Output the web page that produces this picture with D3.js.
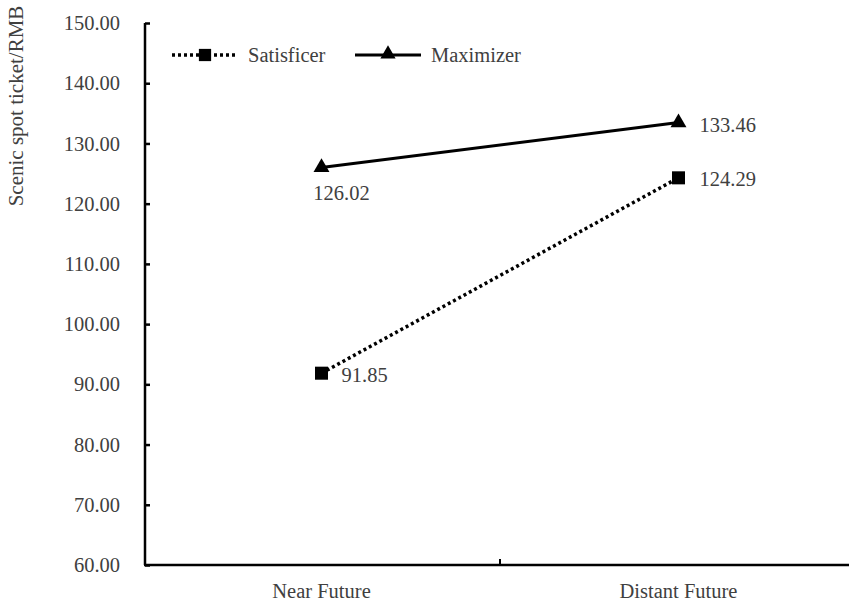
<!DOCTYPE html>
<html><head><meta charset="utf-8">
<script src="https://cdn.jsdelivr.net/npm/d3@7"></script>
<style>body{margin:0;background:#fff}svg{display:block}</style>
</head><body><svg id="c" width="849" height="605"></svg>
<script>
const categories = ["Near Future", "Distant Future"];
const seriesNames = ["Satisficer", "Maximizer"];
const satisficer = [91.85, 124.29];
const maximizer = [126.02, 133.46];
const yTicks = [60, 70, 80, 90, 100, 110, 120, 130, 140, 150];

const svg = d3.select("#c");
const txt = "#404040";
const fs = 20.5;
const x = d3.scaleBand().domain(categories).range([143, 857]);
const y = d3.scaleLinear().domain([60, 150]).range([565, 23]);
const cx = d => x(d) + x.bandwidth() / 2;

// y axis
const ya = svg.append("g").attr("transform", "translate(145,0)")
  .call(d3.axisLeft(y).tickValues(yTicks).tickSize(-5).tickPadding(25).tickFormat(d3.format(".2f")));
ya.select(".domain").attr("stroke", "#000").attr("stroke-width", 2.5).attr("d", "M0,23V565");
ya.selectAll(".tick line").attr("stroke", "#000").attr("stroke-width", 2.5);
ya.selectAll("text").attr("font-size", fs).attr("fill", txt);

// x axis
const xa = svg.append("g").attr("transform", "translate(0,565)")
  .call(d3.axisBottom(x).tickSize(0).tickPadding(18));
xa.select(".domain").attr("stroke", "#000").attr("stroke-width", 2.5).attr("d", "M144,0H849");
xa.selectAll("text").attr("font-size", fs).attr("fill", txt);
svg.append("line").attr("x1", x(categories[1])).attr("x2", x(categories[1]))
  .attr("y1", 565).attr("y2", 559).attr("stroke", "#000").attr("stroke-width", 2);

// y title
svg.append("text").attr("transform", "translate(23,106) rotate(-90)")
  .attr("text-anchor", "middle").attr("font-size", 21).attr("fill", txt)
  .text("Scenic spot ticket/RMB");

const line = d3.line().x((d, i) => cx(categories[i])).y(d => y(d));
svg.append("path").datum(maximizer).attr("d", line).attr("fill", "none")
  .attr("stroke", "#000").attr("stroke-width", 3);
svg.append("path").datum(satisficer).attr("d", line).attr("fill", "none")
  .attr("stroke", "#000").attr("stroke-width", 3.5).attr("stroke-dasharray", "3,3");

const sq = d3.symbol().type(d3.symbolSquare).size(170);
const tri = d3.symbol().type(d3.symbolTriangle).size(110);
svg.selectAll(".sq").data(satisficer).join("path")
  .attr("d", sq).attr("transform", (d, i) => `translate(${cx(categories[i])},${y(d)})`).attr("fill", "#000");
svg.selectAll(".tri").data(maximizer).join("path")
  .attr("d", tri).attr("transform", (d, i) => `translate(${cx(categories[i])},${y(d)})`).attr("fill", "#000");

// data labels
const lab = (t, xx, yy, anchor) => svg.append("text").attr("x", xx).attr("y", yy)
  .attr("text-anchor", anchor).attr("font-size", fs).attr("fill", txt).text(t);
lab(maximizer[0].toFixed(2), cx(categories[0]) + 20, y(maximizer[0]) + 33, "middle");
lab(satisficer[0].toFixed(2), cx(categories[0]) + 20, y(satisficer[0]) + 9, "start");
lab(maximizer[1].toFixed(2), cx(categories[1]) + 21, y(maximizer[1]) + 9, "start");
lab(satisficer[1].toFixed(2), cx(categories[1]) + 21, y(satisficer[1]) + 8, "start");

// legend
const lg = svg.append("g");
lg.append("line").attr("x1", 172).attr("x2", 238).attr("y1", 55).attr("y2", 55)
  .attr("stroke", "#000").attr("stroke-width", 3.5).attr("stroke-dasharray", "3,3");
lg.append("path").attr("d", d3.symbol().type(d3.symbolSquare).size(150)).attr("transform", "translate(205,55)").attr("fill", "#000");
lg.append("text").attr("x", 248).attr("y", 62).attr("font-size", fs).attr("fill", txt).text(seriesNames[0]);
lg.append("line").attr("x1", 355).attr("x2", 421).attr("y1", 55).attr("y2", 55)
  .attr("stroke", "#000").attr("stroke-width", 3);
lg.append("path").attr("d", d3.symbol().type(d3.symbolTriangle).size(100)).attr("transform", "translate(388,54)").attr("fill", "#000");
lg.append("text").attr("x", 431).attr("y", 62).attr("font-size", fs).attr("fill", txt).text(seriesNames[1]);

svg.selectAll("text").style("font-family", '"Liberation Serif", "Times New Roman", serif');
</script></body></html>
